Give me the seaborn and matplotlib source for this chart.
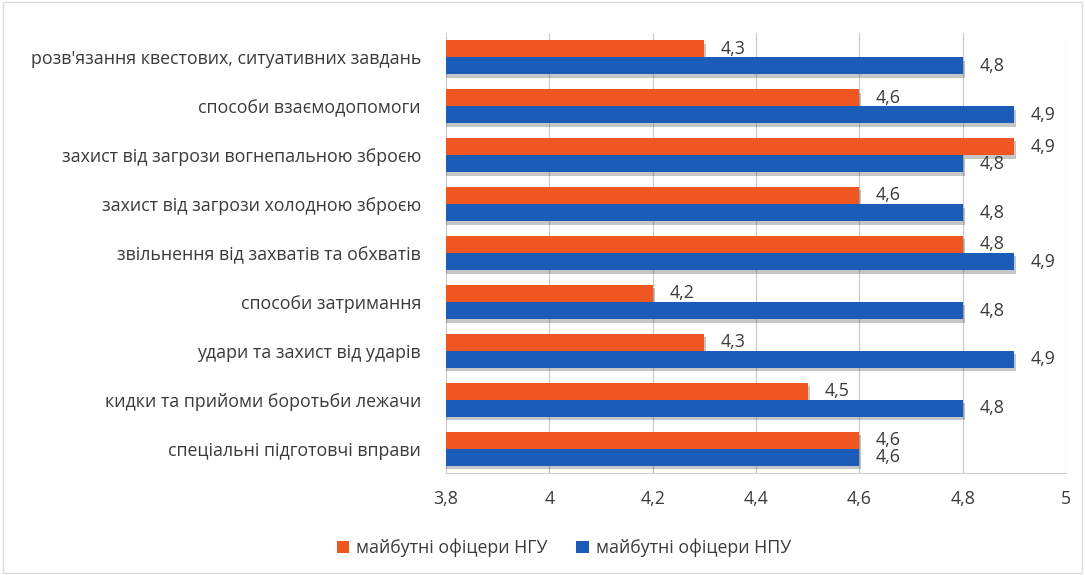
import pandas as pd
import numpy as np
import matplotlib.pyplot as plt
import matplotlib.patheffects as pe
from matplotlib.ticker import FuncFormatter
import seaborn as sns

categories = [
    "розв'язання квестових, ситуативних завдань",
    "способи взаємодопомоги",
    "захист від загрози вогнепальною зброєю",
    "захист від загрози холодною зброєю",
    "звільнення від захватів та обхватів",
    "способи затримання",
    "удари та захист від ударів",
    "кидки та прийоми боротьби лежачи",
    "спеціальні підготовчі вправи",
]
ngu = [4.3, 4.6, 4.9, 4.6, 4.8, 4.2, 4.3, 4.5, 4.6]
npu = [4.8, 4.9, 4.8, 4.8, 4.9, 4.8, 4.9, 4.8, 4.6]
series = ["майбутні офіцери НГУ", "майбутні офіцери НПУ"]
colors = ["#F0561F", "#1A5CB8"]

df = pd.DataFrame({
    "category": categories * 2,
    "value": ngu + npu,
    "group": [series[0]] * len(categories) + [series[1]] * len(categories),
})

sns.set_style("white")
plt.rcParams['font.family'] = ['Open Sans', 'DejaVu Sans']
text_color = "#3a3a3a"
fs = 12.8

fig = plt.figure(figsize=(10.85, 5.75), dpi=100)
ax = fig.add_axes([0.411, 0.177, 0.5715, 0.766])

sns.barplot(data=df, y="category", x="value", hue="group", orient="h",
            palette=colors, width=0.7, ax=ax, saturation=1,
            order=categories, hue_order=series, linewidth=0)

# soft drop shadow under the bars
shadow = [pe.SimplePatchShadow(offset=(1.5, -2.5), shadow_rgbFace="#444444", alpha=0.3), pe.Normal()]
for cont, vals in zip(ax.containers, [ngu, npu]):
    for bar in cont:
        bar.set_linewidth(0)
        bar.set_path_effects(shadow)
    ax.bar_label(cont, labels=[f"{v:.1f}".replace(".", ",") for v in vals],
                 padding=12, fontsize=fs, color=text_color)

ax.set_xlim(3.8, 5.0)
ax.set_xticks(np.arange(3.8, 5.01, 0.2))
ax.xaxis.set_major_formatter(FuncFormatter(lambda v, p: f"{v:.1f}".rstrip("0").rstrip(".").replace(".", ",")))
ax.grid(axis="x", color="#c8c8c8", linewidth=0.8)
ax.set_axisbelow(True)
for s in ["top", "right", "left"]:
    ax.spines[s].set_visible(False)
ax.spines["bottom"].set_color("#d0d0d0")
ax.tick_params(axis="x", length=0, pad=12, labelsize=fs, labelcolor=text_color)
ax.tick_params(axis="y", length=0, pad=18, labelsize=fs, labelcolor=text_color)
ax.set_xlabel("")
ax.set_ylabel("")

ax.legend(loc="center", bbox_to_anchor=(0.19, -0.17), ncol=2, frameon=False,
          fontsize=fs, handlelength=0.7, handleheight=0.7, handletextpad=0.4,
          columnspacing=1.6, labelcolor=text_color)

fig.patches.append(plt.Rectangle((0.003, 0.003), 0.994, 0.994, transform=fig.transFigure,
                                 fill=False, edgecolor="#dcdcdc", linewidth=1))

fig.savefig("out.png", dpi=100)
